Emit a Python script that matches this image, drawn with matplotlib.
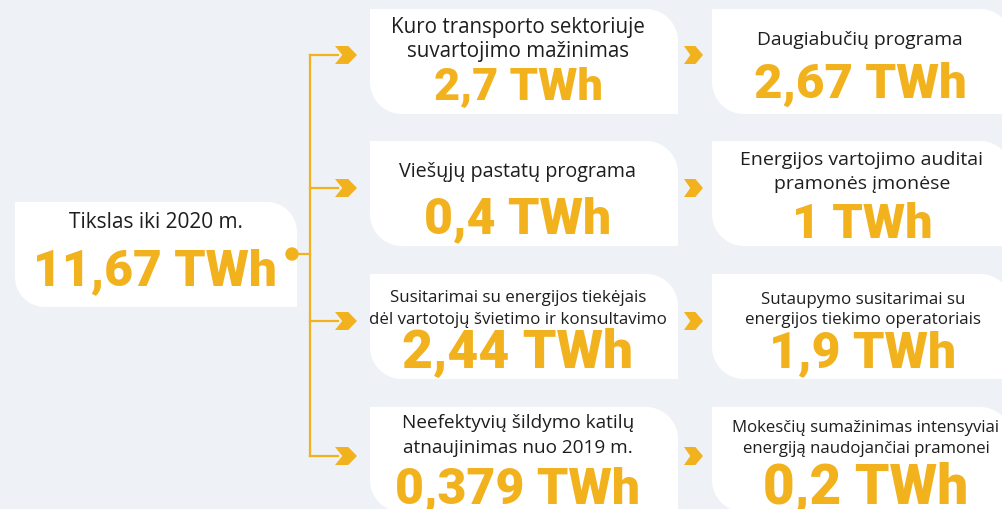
import matplotlib.pyplot as plt
import numpy as np
from matplotlib.patches import Polygon, Circle

# ---- data ----
goal_label = "Tikslas iki 2020 m."
goal_value = "11,67 TWh"

mid_labels = ["Kuro transporto sektoriuje\nsuvartojimo mažinimas",
              "Viešųjų pastatų programa",
              "Susitarimai su energijos tiekėjais\ndėl vartotojų švietimo ir konsultavimo",
              "Neefektyvių šildymo katilų\natnaujinimas nuo 2019 m."]
mid_values = ["2,7 TWh", "0,4 TWh", "2,44 TWh", "0,379 TWh"]

right_labels = ["Daugiabučių programa",
                "Energijos vartojimo auditai\npramonės įmonėse",
                "Sutaupymo susitarimai su\nenergijos tiekimo operatoriais",
                "Mokesčių sumažinimas intensyviai\nenergiją naudojančiai pramonei"]
right_values = ["2,67 TWh", "1 TWh", "1,9 TWh", "0,2 TWh"]

# ---- style ----
BG = '#EEF1F5'
YEL = '#F1B21E'
TXT = '#1E1E1E'
LABEL_FONT = ['Open Sans', 'DejaVu Sans']
VALUE_FONT = ['Roboto', 'DejaVu Sans']

# per box layout (pixels from top): x centre, first label baseline, line step,
# value baseline, label size, value size  (boxes fit their text like the original)
mid_lay = [(518, 33, 24, 100, 14.8, 32.5), (518, 177, 0, 233, 14.2, 36),
           (518, 302, 22, 368, 12.2, 38.5), (518, 428, 25, 503, 13.7, 36)]
right_lay = [(860, 45, 0, 98, 13.9, 35.5), (862, 165, 24, 238, 14.0, 35),
             (863, 304, 20, 367, 12.2, 36), (866, 432, 21, 503, 12.1, 39.5)]

fig = plt.figure(figsize=(10.03, 5.10), dpi=100)
fig.patch.set_facecolor(BG)
ax = fig.add_axes([0, 0, 1, 1])
ax.set_xlim(0, 1003)
ax.set_ylim(510, 0)
ax.axis('off')


def leaf_box(x0, y0, x1, y1, r=32):
    # square top-left / bottom-right, rounded top-right / bottom-left
    t1 = np.linspace(-np.pi / 2, 0, 20)
    t2 = np.linspace(np.pi / 2, np.pi, 20)
    pts = [(x0, y0)]
    pts += list(zip(x1 - r + r * np.cos(t1), y0 + r + r * np.sin(t1)))
    pts += [(x1, y1)]
    pts += list(zip(x0 + r + r * np.cos(t2), y1 - r + r * np.sin(t2)))
    ax.add_patch(Polygon(pts, closed=True, facecolor='white', edgecolor='none', zorder=1))


def chevron(x, y, w=22, h=18):
    pts = [(x, y - h / 2), (x + w * 0.6, y - h / 2), (x + w, y),
           (x + w * 0.6, y + h / 2), (x, y + h / 2), (x + w * 0.33, y)]
    ax.add_patch(Polygon(pts, closed=True, facecolor=YEL, edgecolor='none', zorder=3))


def box_text(label, value, lay):
    xc, y_lab, step, y_val, lsize, vsize = lay
    for k, ln in enumerate(label.split('\n')):
        ax.text(xc, y_lab + k * step, ln, ha='center', va='baseline', fontsize=lsize,
                color=TXT, family=LABEL_FONT, zorder=4)
    ax.text(xc, y_val, value, ha='center', va='baseline', fontsize=vsize,
            fontweight='black', color=YEL, family=VALUE_FONT, zorder=4)


# ---- layout ----
row_tops = [10, 142, 275, 408]
row_h = 105
arrow_y = [56, 189, 322, 457]
mid_x0, mid_x1 = 370, 678
right_x0, right_x1 = 712, 1012
trunk_x = 310

# left goal box
leaf_box(15, 203, 297, 308, r=30)
ax.text(156, 228, goal_label, ha='center', va='baseline', fontsize=15,
        color=TXT, family=LABEL_FONT, zorder=4)
ax.text(155, 285, goal_value, ha='center', va='baseline', fontsize=35.8,
        fontweight='black', color=YEL, family=VALUE_FONT, zorder=4)

# connector
ax.plot([292, trunk_x], [255, 255], color=YEL, lw=1.6, zorder=2)
ax.add_patch(Circle((292, 255), 6, color=YEL, zorder=3))
ax.plot([trunk_x, trunk_x], [arrow_y[0], arrow_y[-1]], color=YEL, lw=1.6, zorder=2)

for i in range(4):
    top = row_tops[i]
    leaf_box(mid_x0, top, mid_x1, top + row_h)
    leaf_box(right_x0, top, right_x1, top + row_h)
    ax.plot([trunk_x, 338], [arrow_y[i], arrow_y[i]], color=YEL, lw=1.6, zorder=2)
    chevron(335, arrow_y[i])
    chevron(684, arrow_y[i], w=19, h=18)
    box_text(mid_labels[i], mid_values[i], mid_lay[i])
    box_text(right_labels[i], right_values[i], right_lay[i])

fig.savefig('out.png', dpi=100, facecolor=BG)
